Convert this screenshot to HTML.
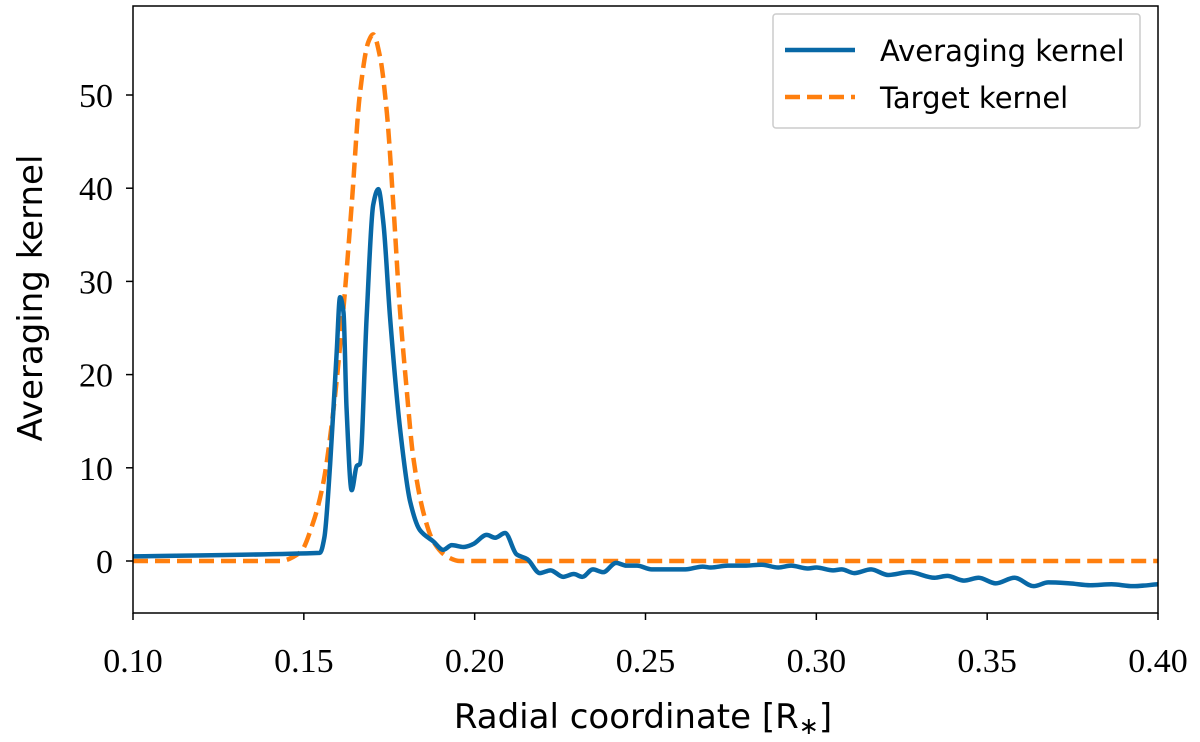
<!DOCTYPE html>
<html><head><meta charset="utf-8"><style>
body{margin:0;background:#fff}
svg{display:block}
.tick{font-family:"Liberation Serif",serif;font-size:34px;fill:#000}
.lab{font-family:"DejaVu Sans","Liberation Sans",sans-serif;font-size:34px;fill:#000}
.leg{font-family:"DejaVu Sans","Liberation Sans",sans-serif;font-size:29px;fill:#000}
</style></head><body>
<svg id="chart" width="1200" height="742">
<path id="target" fill="none" stroke="#ff7f0e" stroke-width="4.5" stroke-dasharray="15,7"/>
<path id="avg" fill="none" stroke="#0868a6" stroke-width="4.5" stroke-linejoin="round"/>
<rect x="133" y="6" width="1025" height="607" fill="none" stroke="#000" stroke-width="1.5"/>
<g id="ticks"></g>
<text class="lab" x="643" y="728" text-anchor="middle">Radial coordinate [R<tspan font-size="24" dy="6">∗</tspan><tspan dy="-6">]</tspan></text>
<text class="lab" transform="translate(42,298) rotate(-90)" text-anchor="middle">Averaging kernel</text>
<g>
<rect x="773" y="14" width="367" height="114" fill="#fff" stroke="#ccc" stroke-width="1.5" rx="3"/>
<line x1="785" y1="50" x2="855" y2="50" stroke="#0868a6" stroke-width="4.5"/>
<text class="leg" x="880" y="61">Averaging kernel</text>
<line x1="785" y1="97" x2="855" y2="97" stroke="#ff7f0e" stroke-width="4.5" stroke-dasharray="15,7"/>
<text class="leg" x="880" y="108">Target kernel</text>
</g>
</svg>
<script>
const xTicks=[0.10,0.15,0.20,0.25,0.30,0.35,0.40];
const xTickLabels=["0.10","0.15","0.20","0.25","0.30","0.35","0.40"];
const yTicks=[0,10,20,30,40,50];
const yTickLabels=["0","10","20","30","40","50"];
const avgX=[0.100,0.1547,0.1560,0.1577,0.1596,0.1606,0.1616,0.1625,0.1640,0.1655,0.1664,0.1684,0.1703,0.1718,0.1733,0.1752,0.1781,0.1811,0.1840,0.1879,0.1908,0.1933,0.1967,0.1995,0.2035,0.2060,0.2089,0.2123,0.2154,0.2191,0.2222,0.2259,0.2290,0.2315,0.2346,0.2376,0.2414,0.2444,0.2475,0.2518,0.2568,0.2617,0.2667,0.2691,0.2741,0.2790,0.2839,0.2889,0.2926,0.2975,0.3000,0.3049,0.3074,0.3111,0.3160,0.3210,0.3272,0.3346,0.3383,0.3432,0.3475,0.3525,0.3580,0.3636,0.3679,0.3741,0.3802,0.3864,0.3926,0.4000];
const avgY=[0.5,0.87,2.5,10.4,22.3,28.3,26.7,16.4,7.6,10.2,10.4,26.3,38.2,39.9,36.2,26.3,14.4,6.4,3.3,2.1,1.2,1.7,1.5,1.8,2.8,2.5,3.0,0.7,0.2,-1.3,-1.0,-1.7,-1.4,-1.7,-0.9,-1.2,-0.2,-0.5,-0.5,-0.9,-0.9,-0.9,-0.6,-0.7,-0.5,-0.5,-0.4,-0.7,-0.5,-0.8,-0.7,-1.0,-0.9,-1.3,-0.9,-1.5,-1.2,-1.8,-1.6,-2.1,-1.8,-2.4,-1.8,-2.7,-2.3,-2.4,-2.6,-2.5,-2.7,-2.5];
const tgtX=[0.100,0.143,0.1489,0.1527,0.1557,0.1586,0.1616,0.1640,0.1664,0.1689,0.1703,0.1723,0.1743,0.1762,0.1781,0.1801,0.1820,0.1850,0.1879,0.1918,0.1957,0.4000];
const tgtY=[0,0,0.9,4.1,8.4,16,27.1,38.2,50.1,55.7,56.5,54.1,48.1,38.2,27.1,18.4,11.2,5.2,2.1,0.5,0,0];
const X=v=>133+(v-0.1)/0.3*1025;
const Y=v=>561-v*9.32;
function monotone(xs,ys){
  const p=xs.map((x,i)=>[X(x),Y(ys[i])]);
  const n=p.length,d=[],m=[];
  for(let i=0;i<n-1;i++)d.push((p[i+1][1]-p[i][1])/(p[i+1][0]-p[i][0]));
  m[0]=d[0];m[n-1]=d[n-2];
  for(let i=1;i<n-1;i++){m[i]=(d[i-1]*d[i]<=0)?0:2/(1/d[i-1]+1/d[i]);}
  let s='M'+p[0][0]+','+p[0][1];
  for(let i=0;i<n-1;i++){
    const h=(p[i+1][0]-p[i][0])/3;
    s+=' C'+(p[i][0]+h)+','+(p[i][1]+m[i]*h)+' '+(p[i+1][0]-h)+','+(p[i+1][1]-m[i+1]*h)+' '+p[i+1][0]+','+p[i+1][1];
  }
  return s;
}
document.getElementById('avg').setAttribute('d',monotone(avgX,avgY));
document.getElementById('target').setAttribute('d',monotone(tgtX,tgtY));
const NS='http://www.w3.org/2000/svg';
const g=document.getElementById('ticks');
function mk(tag,attrs,parent){const e=document.createElementNS(NS,tag);for(const k in attrs)e.setAttribute(k,attrs[k]);parent.appendChild(e);return e;}
xTicks.forEach((v,i)=>{
  const l=mk('line',{x1:X(v),x2:X(v),y1:613,y2:620,stroke:'#000','stroke-width':1.5},g);
  
  
  const t=mk('text',{x:X(v),y:672,'text-anchor':'middle',class:'tick'},g);
  t.textContent=xTickLabels[i];
  
  
});
yTicks.forEach((v,i)=>{
  const l=mk('line',{x1:126,x2:133,y1:Y(v),y2:Y(v),stroke:'#000','stroke-width':1.5},g);
  
  
  const t=mk('text',{x:113,y:Y(v)+12,'text-anchor':'end',class:'tick'},g);
  t.textContent=yTickLabels[i];
  
  
});
</script>
</body></html>
